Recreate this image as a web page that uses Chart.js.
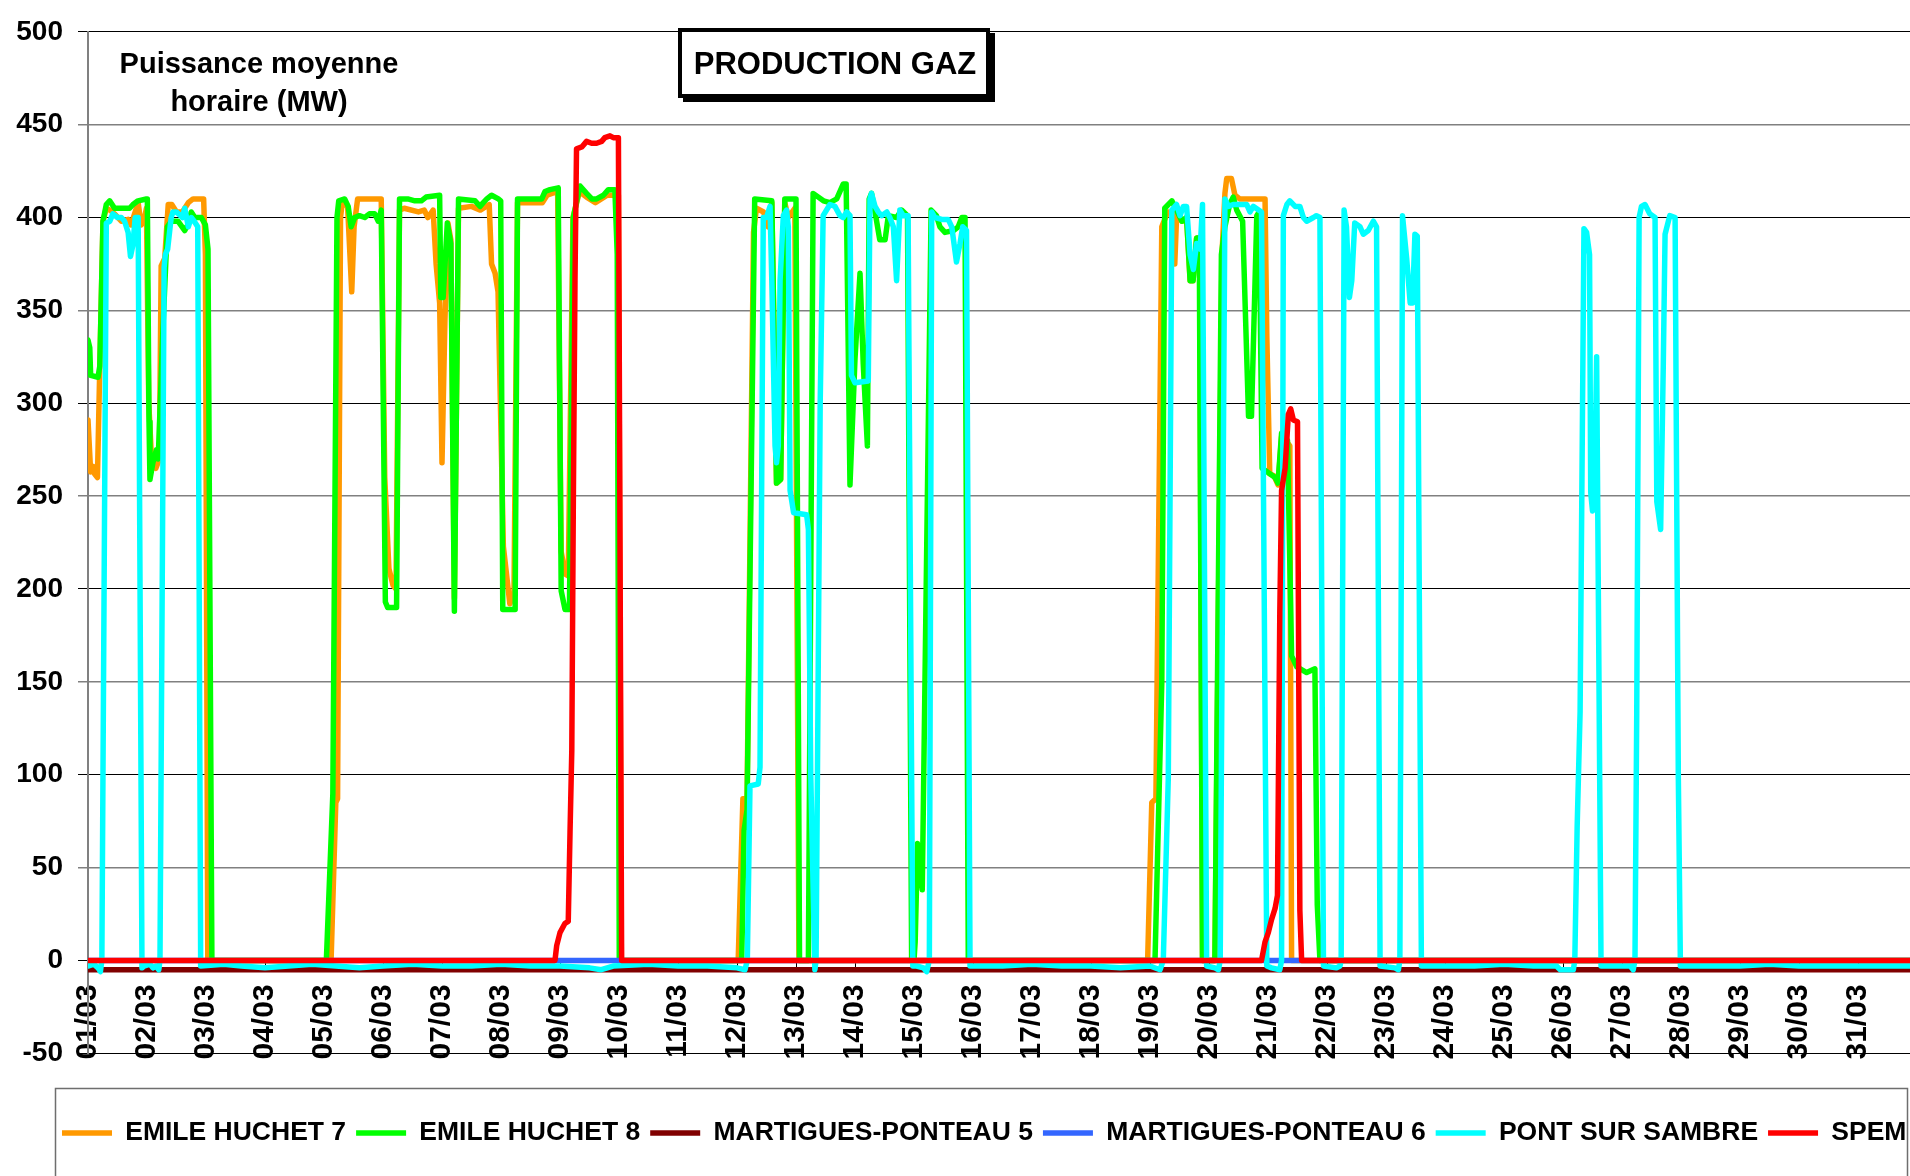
<!DOCTYPE html>
<html><head><meta charset="utf-8">
<script src="https://cdn.jsdelivr.net/npm/chart.js@4.4.1/dist/chart.umd.min.js"></script>
<style>
html,body{margin:0;padding:0;overflow:hidden;background:#fff;width:1910px;height:1176px;}
#wrap{position:relative;width:1917px;height:1176px;}
canvas{display:block;}
</style></head><body>
<div id="wrap"><canvas id="c" width="1917" height="1176"></canvas></div>
<script>
// x values are days since 01/03 00:00, y values are MW
const dayLabels = ['01/03','02/03','03/03','04/03','05/03','06/03','07/03','08/03','09/03','10/03','11/03','12/03','13/03','14/03','15/03','16/03','17/03','18/03','19/03','20/03','21/03','22/03','23/03','24/03','25/03','26/03','27/03','28/03','29/03','30/03','31/03'];
const yTickValues = [-50,0,50,100,150,200,250,300,350,400,450,500];
const seriesNames = ['EMILE HUCHET 7','EMILE HUCHET 8','MARTIGUES-PONTEAU 5','MARTIGUES-PONTEAU 6','PONT SUR SAMBRE','SPEM'];

const emileHuchet7 = [
[0,291],[0.045,263],[0.085,266],[0.11,262],[0.16,260],[0.2,320],[0.254,398],[0.31,405],[0.37,404],[0.45,402],[0.565,398],[0.68,399],[0.73,396],[0.8,403],[0.85,408],[0.9,396],[0.96,400],[0.99,405],[1.03,300],[1.08,268],[1.15,265],[1.21,270],[1.24,374],[1.3,378],[1.36,407],[1.42,407],[1.5,403],[1.6,403],[1.7,408],[1.78,410],[1.96,410],[1.99,380],[2.03,0],
[4.12,0],[4.2,85],[4.23,87],[4.28,400],[4.31,408],[4.4,406],[4.47,360],[4.51,395],[4.57,410],[4.97,410],[5.03,260],[5.1,211],[5.17,202],[5.22,200],[5.28,404],[5.36,405],[5.6,403],[5.7,404],[5.76,400],[5.85,404],[5.9,375],[5.96,354],[6.0,268],[6.05,345],[6.1,397],[6.15,388],[6.21,195],[6.28,405],[6.5,406],[6.65,404],[6.8,407],[6.84,375],[6.9,370],[6.95,360],[7.04,223],[7.15,192],[7.22,198],[7.28,408],[7.7,408],[7.78,412],[7.96,414],[8.02,220],[8.09,208],[8.14,207],[8.22,400],[8.33,414],[8.45,411],[8.6,408],[8.8,412],[8.99,412],[9.04,0],
[11.02,0],[11.1,87],[11.17,87],[11.28,392],[11.33,405],[11.45,403],[11.53,395],[11.59,408],[11.67,257],[11.74,259],[11.81,408],[11.87,400],[11.98,405],[12.05,0],
[17.96,0],[18.03,85],[18.1,87],[18.2,395],[18.3,403],[18.4,402],[18.42,375],[18.45,400],[18.55,398],[18.62,400],[18.68,366],[18.73,366],[18.79,389],[18.84,389],[18.89,0],
[19.1,0],[19.22,380],[19.27,413],[19.3,421],[19.38,421],[19.44,412],[19.52,410],[19.95,410],[19.98,336],[20.03,262],[20.1,261],[20.17,256],[20.23,282],[20.3,280],[20.37,277],[20.4,0],
[31,0]
];

const emileHuchet8 = [
[0,334],[0.03,330],[0.045,315],[0.17,314],[0.2,320],[0.254,398],[0.31,407],[0.367,409],[0.45,405],[0.565,405],[0.706,405],[0.763,407],[0.847,409],[0.99,410],[1.006,410],[1.034,290],[1.05,259],[1.1,268],[1.16,275],[1.19,270],[1.27,340],[1.345,395],[1.41,398],[1.525,398],[1.64,393],[1.69,396],[1.75,403],[1.81,400],[1.92,400],[1.99,396],[2.034,383],[2.1,0],
[4.04,0],[4.15,90],[4.22,400],[4.25,409],[4.35,410],[4.41,406],[4.46,395],[4.52,400],[4.6,401],[4.69,400],[4.77,402],[4.86,402],[4.92,398],[4.97,404],[5.04,193],[5.08,190],[5.23,190],[5.28,410],[5.42,410],[5.54,409],[5.65,409],[5.73,411],[5.96,412],[5.98,357],[6.02,357],[6.09,397],[6.15,386],[6.21,188],[6.28,410],[6.56,409],[6.645,406],[6.7,408],[6.76,410],[6.84,412],[6.955,410],[6.995,409],[7.03,189],[7.24,189],[7.28,410],[7.69,410],[7.745,414],[7.83,415],[7.97,416],[8.02,199],[8.085,189],[8.16,189],[8.225,400],[8.34,417],[8.45,413],[8.54,410],[8.62,410],[8.735,412],[8.82,415],[8.93,415],[8.97,380],[9.005,0],
[11.08,0],[11.12,70],[11.17,81],[11.3,410],[11.59,409],[11.67,257],[11.74,259],[11.81,410],[12.0,410],[12.06,0],
[12.21,0],[12.29,413],[12.465,409],[12.575,408],[12.69,410],[12.8,418],[12.85,418],[12.915,256],[13.0,324],[13.085,370],[13.14,321],[13.21,277],[13.24,410],[13.28,413],[13.34,403],[13.42,388],[13.51,388],[13.565,401],[13.705,400],[13.79,404],[13.89,401],[13.96,0],[14.0,0],[14.02,10],[14.06,63],[14.14,38],[14.29,404],[14.38,401],[14.44,395],[14.525,392],[14.67,393],[14.75,395],[14.81,400],[14.865,400],[14.92,0],
[18.085,0],[18.14,72],[18.2,150],[18.25,405],[18.37,409],[18.45,404],[18.54,398],[18.62,400],[18.68,366],[18.73,366],[18.79,389],[18.835,389],[18.89,0],
[19.1,0],[19.21,380],[19.27,395],[19.35,407],[19.41,411],[19.47,404],[19.57,398],[19.67,293],[19.72,293],[19.81,401],[19.85,403],[19.9,265],[20.03,262],[20.12,260],[20.17,257],[20.23,284],[20.33,280],[20.4,164],[20.49,158],[20.655,155],[20.795,157],[20.835,30],[20.88,0],
[31,0]
];

const martiguesPonteau5 = [[0,-5],[31,-5]];
const martiguesPonteau6 = [[0,0],[31,0]];

const pontSurSambre = [
[0,-3],[0.1,-2],[0.17,-4],[0.21,-6],[0.235,0],[0.31,397],[0.37,398],[0.42,402],[0.5,400],[0.565,400],[0.62,398],[0.68,392],[0.72,379],[0.76,385],[0.8,400],[0.85,400],[0.915,-4],[0.95,-3],[1.05,-2],[1.1,-4],[1.15,-3],[1.2,-5],[1.22,0],[1.29,373],[1.31,380],[1.35,383],[1.41,400],[1.44,403],[1.5,403],[1.6,400],[1.64,405],[1.7,395],[1.75,400],[1.8,398],[1.86,395],[1.91,-3],
[2.3,-2],[2.6,-3],[3.0,-4],[3.4,-3],[3.8,-2],[4.2,-3],[4.6,-4],[5.0,-3],[5.5,-2],[6.0,-3],[6.5,-3],[7.0,-2],[7.5,-3],[8.0,-3],[8.5,-4],[8.7,-5],[8.9,-3],[9.5,-2],[10.0,-3],[10.5,-3],[11.0,-4],[11.135,-5],[11.175,0],[11.22,94],[11.36,95],[11.39,104],[11.445,400],[11.5,400],[11.56,406],[11.59,366],[11.645,277],[11.67,268],[11.7,277],[11.73,366],[11.785,401],[11.84,404],[11.87,395],[11.9,253],[11.96,241],[12.18,240],[12.21,232],[12.25,100],[12.32,-5],[12.34,0],[12.41,300],[12.46,401],[12.575,407],[12.66,406],[12.745,401],[12.8,400],[12.86,403],[12.915,401],[12.94,315],[13.0,311],[13.225,312],[13.254,410],[13.28,413],[13.34,406],[13.395,403],[13.45,401],[13.54,403],[13.59,400],[13.65,395],[13.705,366],[13.76,404],[13.82,401],[13.9,401],[13.98,-3],[14.045,-3],[14.16,-4],[14.215,-6],[14.26,0],[14.3,403],[14.355,400],[14.47,399],[14.58,399],[14.64,395],[14.72,376],[14.78,386],[14.825,395],[14.89,393],[14.95,-3],
[15.5,-3],[16.0,-2],[16.5,-3],[17.0,-3],[17.5,-4],[18.0,-3],[18.17,-5],[18.225,0],[18.31,98],[18.37,404],[18.45,407],[18.51,401],[18.565,406],[18.62,406],[18.68,380],[18.735,372],[18.79,386],[18.85,383],[18.89,407],[18.96,-3],[19.1,-4],[19.16,-5],[19.19,0],[19.27,410],[19.33,406],[19.41,407],[19.64,407],[19.695,403],[19.75,406],[19.89,403],[19.98,-3],[20.06,-4],[20.2,-5],[20.23,0],[20.26,401],[20.32,407],[20.37,409],[20.46,406],[20.54,406],[20.6,400],[20.655,398],[20.77,400],[20.82,401],[20.88,400],[20.94,-3],[21.16,-4],[21.22,-3],[21.24,0],[21.29,404],[21.33,395],[21.38,357],[21.42,366],[21.47,397],[21.56,395],[21.615,391],[21.7,393],[21.785,398],[21.84,395],[21.9,-3],[22.15,-4],[22.21,-5],[22.235,0],[22.28,401],[22.35,378],[22.41,354],[22.45,354],[22.49,391],[22.53,390],[22.6,-3],
[23.0,-3],[23.5,-3],[24.0,-2],[24.5,-3],[24.89,-3],[24.95,-5],[25.175,-5],[25.2,0],[25.24,72],[25.29,134],[25.355,394],[25.4,392],[25.45,380],[25.47,252],[25.5,242],[25.54,260],[25.57,325],[25.645,-3],[25.97,-3],[26.14,-3],[26.19,-5],[26.22,0],[26.25,134],[26.29,400],[26.33,406],[26.39,407],[26.47,402],[26.56,400],[26.59,247],[26.655,232],[26.7,321],[26.73,391],[26.81,401],[26.9,400],[26.955,98],[26.99,-3],[27.5,-3],[28.0,-3],[28.5,-2],[29.0,-3],[29.5,-3],[30.0,-3],[31,-3]
];

const spem = [
[0,0],[7.915,0],[7.944,8],[8.0,15],[8.085,20],[8.14,21],[8.17,69],[8.2,113],[8.226,247],[8.254,366],[8.28,437],[8.37,438],[8.45,441],[8.536,440],[8.62,440],[8.706,441],[8.76,443],[8.847,444],[8.904,443],[8.99,443],[9.045,0],
[19.89,0],[19.95,10],[20.005,15],[20.06,22],[20.12,28],[20.16,35],[20.2,187],[20.23,253],[20.29,265],[20.345,294],[20.385,297],[20.43,291],[20.5,290],[20.54,27],[20.57,0],[31,0]
];

const seriesColors = ['#FF9900','#00FF00','#800000','#3366FF','#00FFFF','#FF0000'];
const seriesData = [emileHuchet7, emileHuchet8, martiguesPonteau5, martiguesPonteau6, pontSurSambre, spem];

const FONT = '"Liberation Sans", Arial, Helvetica, sans-serif';
Chart.defaults.font.family = FONT;
Chart.defaults.color = '#000';

const datasets = seriesNames.map((name, i) => ({
  label: name,
  data: seriesData[i].map(p => ({x: p[0], y: p[1]})),
  borderColor: seriesColors[i],
  backgroundColor: seriesColors[i],
  borderWidth: 5.5,
  pointRadius: 0,
  pointHoverRadius: 0,
  tension: 0,
  fill: false,
  borderJoinStyle: 'round',
  borderCapStyle: 'round',
  order: seriesNames.length - 1 - i
}));

const decor = {
  id: 'decor',
  afterLayout(chart) {
    const lg = chart.legend;
    if (lg) {
      lg.left = 52; lg.right = 2100;
      lg.top = 1109.75; lg.bottom = 1176;
    }
  },
  afterDraw(chart) {
    const ctx = chart.ctx;
    ctx.save();
    // axis title box
    ctx.fillStyle = '#fff';
    ctx.fillRect(113, 34, 292, 90);
    ctx.fillStyle = '#000';
    ctx.textAlign = 'center';
    ctx.textBaseline = 'alphabetic';
    ctx.font = 'bold 29px ' + FONT;
    ctx.fillText('Puissance moyenne', 259, 73);
    ctx.fillText('horaire (MW)', 259, 111);
    // chart title with shadow
    ctx.fillStyle = '#000';
    ctx.fillRect(683, 33, 312, 69);
    ctx.fillStyle = '#fff';
    ctx.fillRect(678, 28, 312, 70);
    ctx.lineWidth = 4;
    ctx.strokeStyle = '#000';
    ctx.strokeRect(680, 30, 308, 66);
    ctx.fillStyle = '#000';
    ctx.font = 'bold 31px ' + FONT;
    ctx.fillText('PRODUCTION GAZ', 835, 74);
    // legend frame
    ctx.lineWidth = 1.5;
    ctx.strokeStyle = '#6e6e6e';
    ctx.strokeRect(55.5, 1088.5, 1852, 140);
    ctx.restore();
  }
};

new Chart(document.getElementById('c'), {
  type: 'line',
  data: { datasets },
  options: {
    responsive: false,
    animation: false,
    devicePixelRatio: 1,
    layout: { padding: { top: 24.3, bottom: 76.2, left: 0, right: 0 } },
    plugins: {
      legend: {
        position: 'bottom',
        align: 'start',
        labels: {
          usePointStyle: true,
          pointStyle: 'line',
          pointStyleWidth: 50,
          boxWidth: 50,
          padding: 10,
          color: '#000',
          font: { size: 26.5, weight: 'bold', family: FONT },
          sort: (a, b) => a.datasetIndex - b.datasetIndex
        }
      },
      tooltip: { enabled: false },
      title: { display: false }
    },
    scales: {
      x: {
        type: 'linear',
        position: { y: 0 },
        min: 0,
        max: 31,
        afterBuildTicks: s => { s.ticks = dayLabels.map((_, i) => ({ value: i })); },
        ticks: {
          autoSkip: false,
          minRotation: 90,
          maxRotation: 90,
          padding: 17,
          color: '#000',
          font: { size: 30, weight: 'bold', family: FONT },
          callback: (v, i) => dayLabels[i]
        },
        grid: { drawOnChartArea: false, drawTicks: true, tickLength: 7, color: '#000', lineWidth: 1 },
        border: { display: true, color: '#000', width: 1 }
      },
      y: {
        type: 'linear',
        min: -50,
        max: 500,
        afterBuildTicks: s => { s.ticks = yTickValues.map(v => ({ value: v })); },
        afterFit: s => { s.width = 88; },
        ticks: {
          padding: 15,
          color: '#000',
          font: { size: 28, weight: 'bold', family: FONT },
          callback: v => String(v)
        },
        grid: {
          color: c => (c.tick && (c.tick.value % 100 === 0 || c.tick.value === -50)) ? '#000' : '#808080',
          lineWidth: c => (c.tick && (c.tick.value % 100 === 0 || c.tick.value === -50)) ? 1 : 1.5,
          tickLength: 10,
          drawTicks: true
        },
        border: { display: true, color: '#808080', width: 2 }
      }
    }
  },
  plugins: [decor]
});
</script>
</body></html>
